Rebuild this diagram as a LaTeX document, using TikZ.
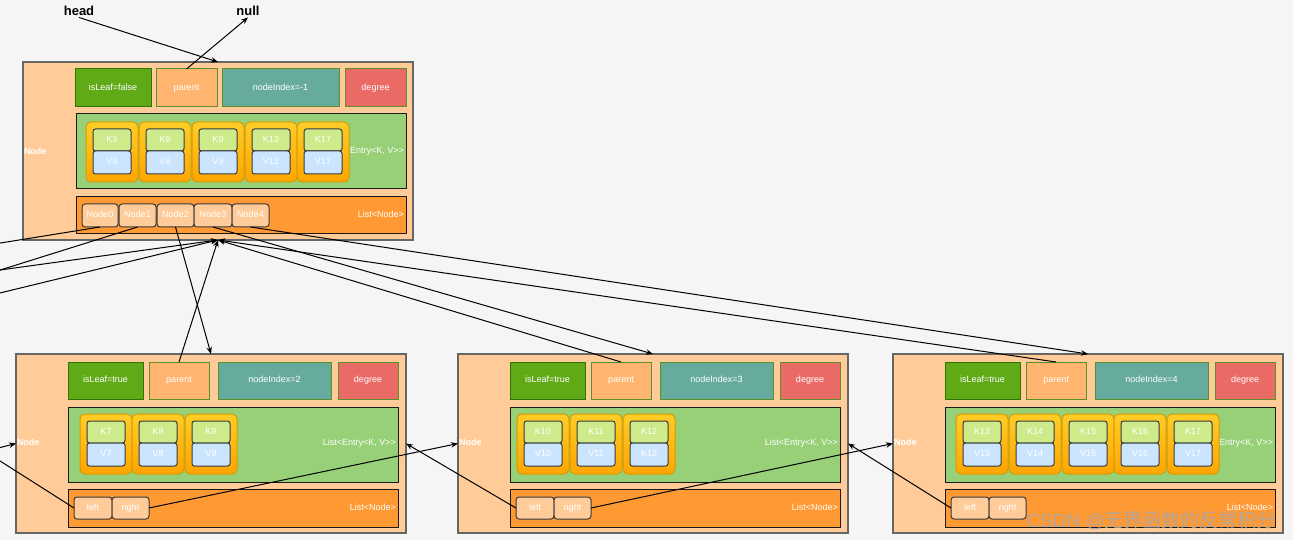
\documentclass[tikz,border=0pt]{standalone}
\usepackage{fontspec}
\setmainfont{Liberation Sans}
\newfontfamily\cjkfont{Noto Sans CJK SC}
\usetikzlibrary{arrows.meta}
\definecolor{bgc}{HTML}{F5F5F5}
\definecolor{nodebg}{HTML}{FFCC99}
\definecolor{nodeln}{HTML}{666666}
\definecolor{leaffill}{HTML}{60A917}
\definecolor{leafln}{HTML}{2D7600}
\definecolor{hdrln}{HTML}{5A8F29}
\definecolor{parfill}{HTML}{FFB570}
\definecolor{idxfill}{HTML}{67AB9F}
\definecolor{degfill}{HTML}{EA6B66}
\definecolor{entfill}{HTML}{97D077}
\definecolor{darkln}{HTML}{1A1A1A}
\definecolor{listfill}{HTML}{FF9933}
\definecolor{cardtop}{HTML}{FFCD28}
\definecolor{cardbot}{HTML}{FFA500}
\definecolor{cardln}{HTML}{D79B00}
\definecolor{kfill}{HTML}{CDEB8B}
\definecolor{vfill}{HTML}{CCE5FF}
\definecolor{smallln}{HTML}{36393D}
\definecolor{wmark}{HTML}{A8A8A8}
\tikzset{
  base/.style={inner sep=0pt, outer sep=0pt, text=white, font=\fontsize{9}{10}\selectfont, text height=6.5pt, text depth=1.6pt, line width=1pt},
  outerbox/.style={base, fill=nodebg, draw=nodeln, line width=1.2pt},
  leafbox/.style={base, fill=leaffill, draw=leafln},
  parbox/.style={base, fill=parfill, draw=hdrln},
  idxbox/.style={base, fill=idxfill, draw=hdrln},
  degbox/.style={base, fill=degfill, draw=hdrln},
  entbox/.style={base, fill=entfill, draw=darkln},
  listbox/.style={base, fill=listfill, draw=darkln},
  cardbox/.style={base, rounded corners=5pt, top color=cardtop, bottom color=cardbot, draw=cardln},
  kbox/.style={base, fill=kfill, draw=smallln, rounded corners=2.5pt},
  vbox/.style={base, fill=vfill, draw=smallln, rounded corners=2.5pt},
  chbox/.style={base, fill=nodebg, draw=smallln, rounded corners=3pt},
  lbl/.style={inner sep=0pt, outer sep=0pt, text=white, font=\fontsize{9}{10}\selectfont, text height=6.5pt, text depth=1.6pt},
  bold lbl/.style={lbl, font=\bfseries\fontsize{9}{10}\selectfont},
  title/.style={inner sep=1.5pt, text=black, font=\bfseries\fontsize{13}{14}\selectfont},
  link/.style={draw=black, line width=1pt, -{Stealth[length=7pt,width=5.5pt]}}
}
% name, style, x1, y1, x2, y2, text
\newcommand\mkbox[7]{\node[#2, minimum width={((#5)-(#3))*1pt}, minimum height={((#6)-(#4))*1pt}] (#1) at ({((#3)+(#5))/2},{((#4)+(#6))/2}) {#7};}
% name, x, y, K, V
\newcommand\mkcard[5]{%
  \mkbox{#1}{cardbox}{#2}{#3}{#2+52}{#3+60}{}
  \mkbox{#1k}{kbox}{#2+7}{#3+7}{#2+45}{#3+29}{#4}
  \mkbox{#1v}{vbox}{#2+7}{#3+29}{#2+45}{#3+52}{#5}}
% prefix, dx, index text, entry label
\newcommand\mkleaf[4]{%
  \mkbox{#1}{outerbox}{16+#2}{354}{406+#2}{533}{}
  \node[bold lbl, anchor=west] (#1nl) at ({17+#2},443) {Node};
  \mkbox{#1leaf}{leafbox}{68+#2}{362}{143+#2}{399}{isLeaf=true}
  \mkbox{#1par}{parbox}{149+#2}{362}{209+#2}{399}{parent}
  \mkbox{#1idx}{idxbox}{218+#2}{362}{331+#2}{399}{#3}
  \mkbox{#1deg}{degbox}{338+#2}{362}{398+#2}{399}{degree}
  \mkbox{#1ent}{entbox}{68+#2}{407}{398+#2}{482}{}
  \node[lbl, anchor=east] (#1el) at ({396+#2},443) {#4};
  \mkbox{#1list}{listbox}{68+#2}{489}{398+#2}{527}{}
  \node[lbl, anchor=east] (#1ll) at ({396+#2},508) {List<Node>};
  \mkbox{#1left}{chbox}{74+#2}{497}{112+#2}{519}{left}
  \mkbox{#1right}{chbox}{112+#2}{497}{149+#2}{519}{right}}
\begin{document}
\begin{tikzpicture}[x=1pt, y=-1pt]
\useasboundingbox (0,0) rectangle (1293,540);
\clip (0,0) rectangle (1293,540);
\fill[bgc] (0,0) rectangle (1293,540);

% titles
\node[title] (head) at (79,11) {head};
\node[title] (null) at (248,11) {null};

% top (internal) node
\mkbox{top}{outerbox}{23}{62}{413}{240}{}
\node[bold lbl, anchor=west] (topnl) at (24,152) {Node};
\mkbox{topleaf}{leafbox}{75}{69}{151}{107}{isLeaf=false}
\mkbox{toppar}{parbox}{156}{69}{217}{107}{parent}
\mkbox{topidx}{idxbox}{222}{69}{339}{107}{nodeIndex=-1}
\mkbox{topdeg}{degbox}{345}{69}{406}{107}{degree}
\mkbox{topent}{entbox}{76}{114}{406}{189}{}
\node[lbl, anchor=east] (topel) at (404,151) {Entry<K, V>{}>};
\mkcard{tc1}{86}{122}{K3}{V3}
\mkcard{tc2}{139}{122}{K6}{V6}
\mkcard{tc3}{192}{122}{K9}{V9}
\mkcard{tc4}{245}{122}{K12}{V12}
\mkcard{tc5}{297}{122}{K17}{V17}
\mkbox{toplist}{listbox}{76}{197}{406}{234}{}
\node[lbl, anchor=east] (topll) at (404,215) {List<Node>};
\mkbox{tn0}{chbox}{82}{204}{118}{227}{Node0}
\mkbox{tn1}{chbox}{119}{204}{156}{227}{Node1}
\mkbox{tn2}{chbox}{157}{204}{194}{227}{Node2}
\mkbox{tn3}{chbox}{194}{204}{232}{227}{Node3}
\mkbox{tn4}{chbox}{232}{204}{269}{227}{Node4}

% leaf nodes
\mkleaf{bl}{0}{nodeIndex=2}{List<Entry<K, V>{}>}
\mkcard{bc1}{80}{414}{K7}{V7}
\mkcard{bc2}{132}{414}{K8}{V8}
\mkcard{bc3}{185}{414}{K9}{V9}

\mkleaf{mid}{442}{nodeIndex=3}{List<Entry<K, V>{}>}
\mkcard{mc1}{517}{414}{K10}{V10}
\mkcard{mc2}{570}{414}{K11}{V11}
\mkcard{mc3}{623}{414}{K12}{K12}

\mkleaf{rt}{877}{nodeIndex=4}{Entry<K, V>{}>}
\mkcard{rc1}{956}{414}{K13}{V13}
\mkcard{rc2}{1009}{414}{K14}{V14}
\mkcard{rc3}{1062}{414}{K15}{V15}
\mkcard{rc4}{1114}{414}{K16}{V16}
\mkcard{rc5}{1167}{414}{K17}{V17}

% off-picture ends
\coordinate (offA) at (-40,249.5);
\coordinate (offB) at (-40,282.6);
\coordinate (offC) at (-40,275.5);
\coordinate (offD) at (-40,302.7);
\coordinate (offE) at (-40,457.7);
\coordinate (offF) at (-40,435.5);

% connectors
\draw[link] (head.south) -- (top.north);
\draw[link] (toppar.north) -- (null.south);
\draw[link] (tn0.south) -- (offA);
\draw[link] (tn1.south) -- (offB);
\draw[link] (offC) -- (top.south);
\draw[link] (offD) -- (top.south);
\draw[link] (tn2.south) -- (bl.north);
\draw[link] (blpar.north) -- (top.south);
\draw[link] (tn3.south) -- (mid.north);
\draw[link] (midpar.north) -- (top.south);
\draw[link] (tn4.south) -- (rt.north);
\draw[link] (rtpar.north) -- (top.south);
\draw[link] (offE) -- (bl.west);
\draw[link] (blleft.west) -- (offF);
\draw[link] (blright.east) -- (mid.west);
\draw[link] (midleft.west) -- (bl.east);
\draw[link] (midright.east) -- (rt.west);
\draw[link] (rtleft.west) -- (mid.east);

% watermark
\node[inner sep=0pt, anchor=east, text=wmark, opacity=0.85, font=\fontsize{19}{20}\selectfont] (wm) at (1276,521) {CSDN @{\cjkfont 无界函数的反常积分}};
\end{tikzpicture}
\end{document}
